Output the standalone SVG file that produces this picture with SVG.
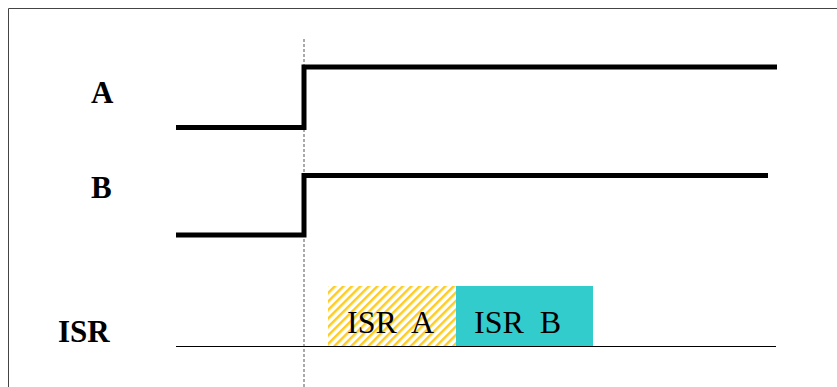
<svg xmlns="http://www.w3.org/2000/svg" width="837" height="387" viewBox="0 0 837 387">
<style>
.lbl{font-family:"Liberation Serif","Times New Roman",serif;font-weight:bold;font-size:31px;fill:#000}
.isr{font-family:"Liberation Serif","Times New Roman",serif;font-size:32px;fill:#000;white-space:pre}
.sig{fill:none;stroke:#000;stroke-width:5;stroke-linejoin:miter;stroke-linecap:butt}
</style>
<defs>
<pattern id="hatch" width="6" height="6" patternUnits="userSpaceOnUse" patternTransform="rotate(45)">
<rect width="6" height="6" fill="#fff"/>
<rect width="2.5" height="6" fill="#ffcc22"/>
</pattern>
</defs>
<rect width="837" height="387" fill="#fff"/>
<path d="M8.5 387V8.5H837" fill="none" stroke="#444" stroke-width="1"/>
<g id="labels">
<text class="lbl" x="91" y="103">A</text>
<text class="lbl" x="91" y="198">B</text>
<text class="lbl" x="58" y="342">ISR</text>
</g>
<g id="connectors">
<line x1="304" y1="39" x2="304" y2="387" stroke="#555" stroke-width="1" stroke-dasharray="3 2"/>
<line x1="176" y1="346.5" x2="776" y2="346.5" stroke="#000" stroke-width="1"/>
</g>
<g id="signalA"><path class="sig" d="M176 127.5H304V67H777"/></g>
<g id="signalB"><path class="sig" d="M176 235H304V175.5H768"/></g>
<g id="isrA">
<rect x="328" y="286" width="128" height="60" fill="url(#hatch)"/>
<text class="isr" x="347" y="333">ISR  A</text>
</g>
<g id="isrB">
<rect x="456" y="286" width="137" height="60" fill="#33cccc"/>
<text class="isr" x="474" y="333">ISR  B</text>
</g>
</svg>
